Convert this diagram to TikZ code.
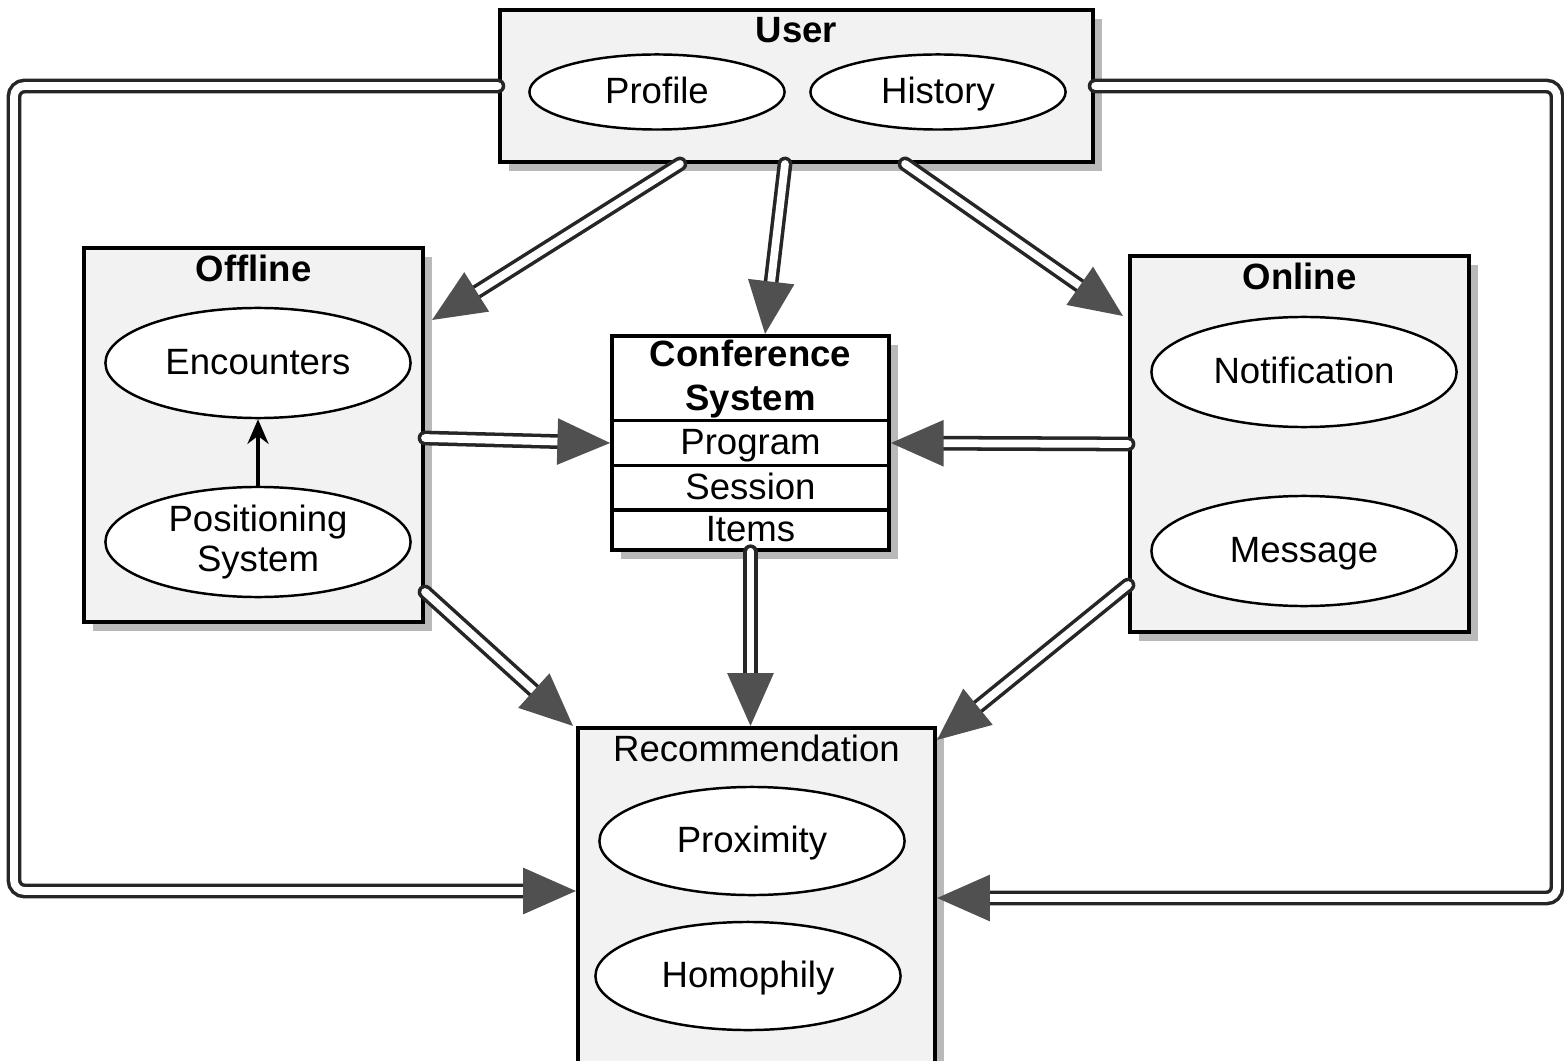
\documentclass[tikz,border=0pt]{standalone}
\usepackage{fontspec}
\setmainfont{Liberation Sans}
\usetikzlibrary{shapes.geometric,arrows.meta,positioning,calc,shadows}
\definecolor{headgray}{HTML}{505050}
\definecolor{boxgray}{HTML}{F2F2F2}

\begin{document}
\begin{tikzpicture}[x=0.01cm, y=-0.01cm,
    every node/.style={font=\fontsize{10.4}{11.5}\selectfont},
    box/.style={draw, line width=1.1pt, fill=boxgray, drop shadow={opacity=0.55, shadow xshift=2.5pt, shadow yshift=-2.5pt}},
    oval/.style={draw, ellipse, line width=0.7pt, fill=white, minimum width=3.05cm, minimum height=1.1cm, align=center, inner sep=0pt},
    flat/.style={text height=1.6ex, text depth=0.4ex},
    row/.style={draw, line width=1pt, fill=white, minimum width=2.77cm, inner sep=0pt},
    title/.style={anchor=north, inner sep=1pt, yshift=-1.5pt, font=\fontsize{10.4}{11.5}\selectfont\bfseries},
    flow/.style={draw=black!85, line width=1pt, double=white, double distance=2.2pt, line cap=round, rounded corners=3pt,
        -{Triangle[length=15pt, width=13pt, fill=headgray, color=headgray]}}]
    \useasboundingbox (0,0) rectangle (1564,1061);
    % User
    \node[box, minimum width=5.93cm, minimum height=1.52cm] (user) at (796.5,86) {};
    \node[title] (usertitle) at (user.north) {User};
    \node[oval, flat, minimum width=2.55cm, minimum height=0.75cm] (profile) at (657,92) {Profile};
    \node[oval, flat, minimum width=2.55cm, minimum height=0.75cm] (history) at (938,92) {History};
    % Offline
    \node[box, minimum width=3.39cm, minimum height=3.74cm] (offline) at (253.5,435) {};
    \node[title] (offlinetitle) at (offline.north) {Offline};
    \node[oval, flat] (encounters) at (258,363) {Encounters};
    \node[oval] (positioning) at (258,542) {Positioning\\System};
    % Conference System
    \node[box, fill=white, minimum width=2.77cm, minimum height=2.14cm] (conf) at (750.5,443) {};
    \node[align=center, font=\fontsize{10.4}{12.4}\selectfont\bfseries] (confhead) at (750.5,379) {Conference\\System};
    \node[row, flat, minimum height=0.45cm] (program) at (750.5,443) {Program};
    \node[row, flat, minimum height=0.45cm] (session) at (750.5,488) {Session};
    \node[row, flat, minimum height=0.40cm] (items) at (750.5,530) {Items};
    % Online
    \node[box, minimum width=3.39cm, minimum height=3.76cm] (online) at (1299.5,444) {};
    \node[title] (onlinetitle) at (online.north) {Online};
    \node[oval, flat] (notification) at (1304,372) {Notification};
    \node[oval, flat] (message) at (1304,551) {Message};
    % Recommendation
    \node[box, minimum width=3.57cm, minimum height=3.40cm] (rec) at (756.5,898) {};
    \node[title, font=\fontsize{10.4}{11.5}\selectfont] (rectitle) at (rec.north) {Recommendation};
    \node[oval, flat, minimum height=1.08cm] (proximity) at (752,841) {Proximity};
    \node[oval, flat, minimum height=1.08cm] (homophily) at (748,976) {Homophily};
    % Loop corners
    \coordinate (lefttop) at (14,86);
    \coordinate (righttop) at (1557,86);
    % Arrows
    \draw[-{Stealth[length=7pt, width=6pt]}, line width=1pt] (positioning) -- (encounters);
    \draw[flow] ([xshift=-1.165cm]user.south) -- ([xshift=0.07cm, yshift=-0.74cm]offline.north east);
    \draw[flow] ([xshift=-0.115cm]user.south) -- ([xshift=0.145cm]conf.north);
    \draw[flow] ([xshift=1.085cm]user.south) -- ([xshift=-0.05cm, yshift=-0.62cm]online.north west);
    \draw[flow] ([yshift=-0.03cm]offline.east) -- (program.west);
    \draw[flow] (online.west) -- (program.east);
    \draw[flow] ([yshift=0.32cm]offline.south east) -- ([xshift=-0.03cm]rec.north west);
    \draw[flow] (items.south) -- (items.south |- rec.north);
    \draw[flow] ([yshift=0.49cm]online.south west) -- ([yshift=-0.14cm]rec.north east);
    \draw[flow] (user.west) -- (lefttop) |- ([yshift=0.07cm]rec.west);
    \draw[flow] (user.east) -- (righttop) |- (rec.east);
\end{tikzpicture}
\end{document}
